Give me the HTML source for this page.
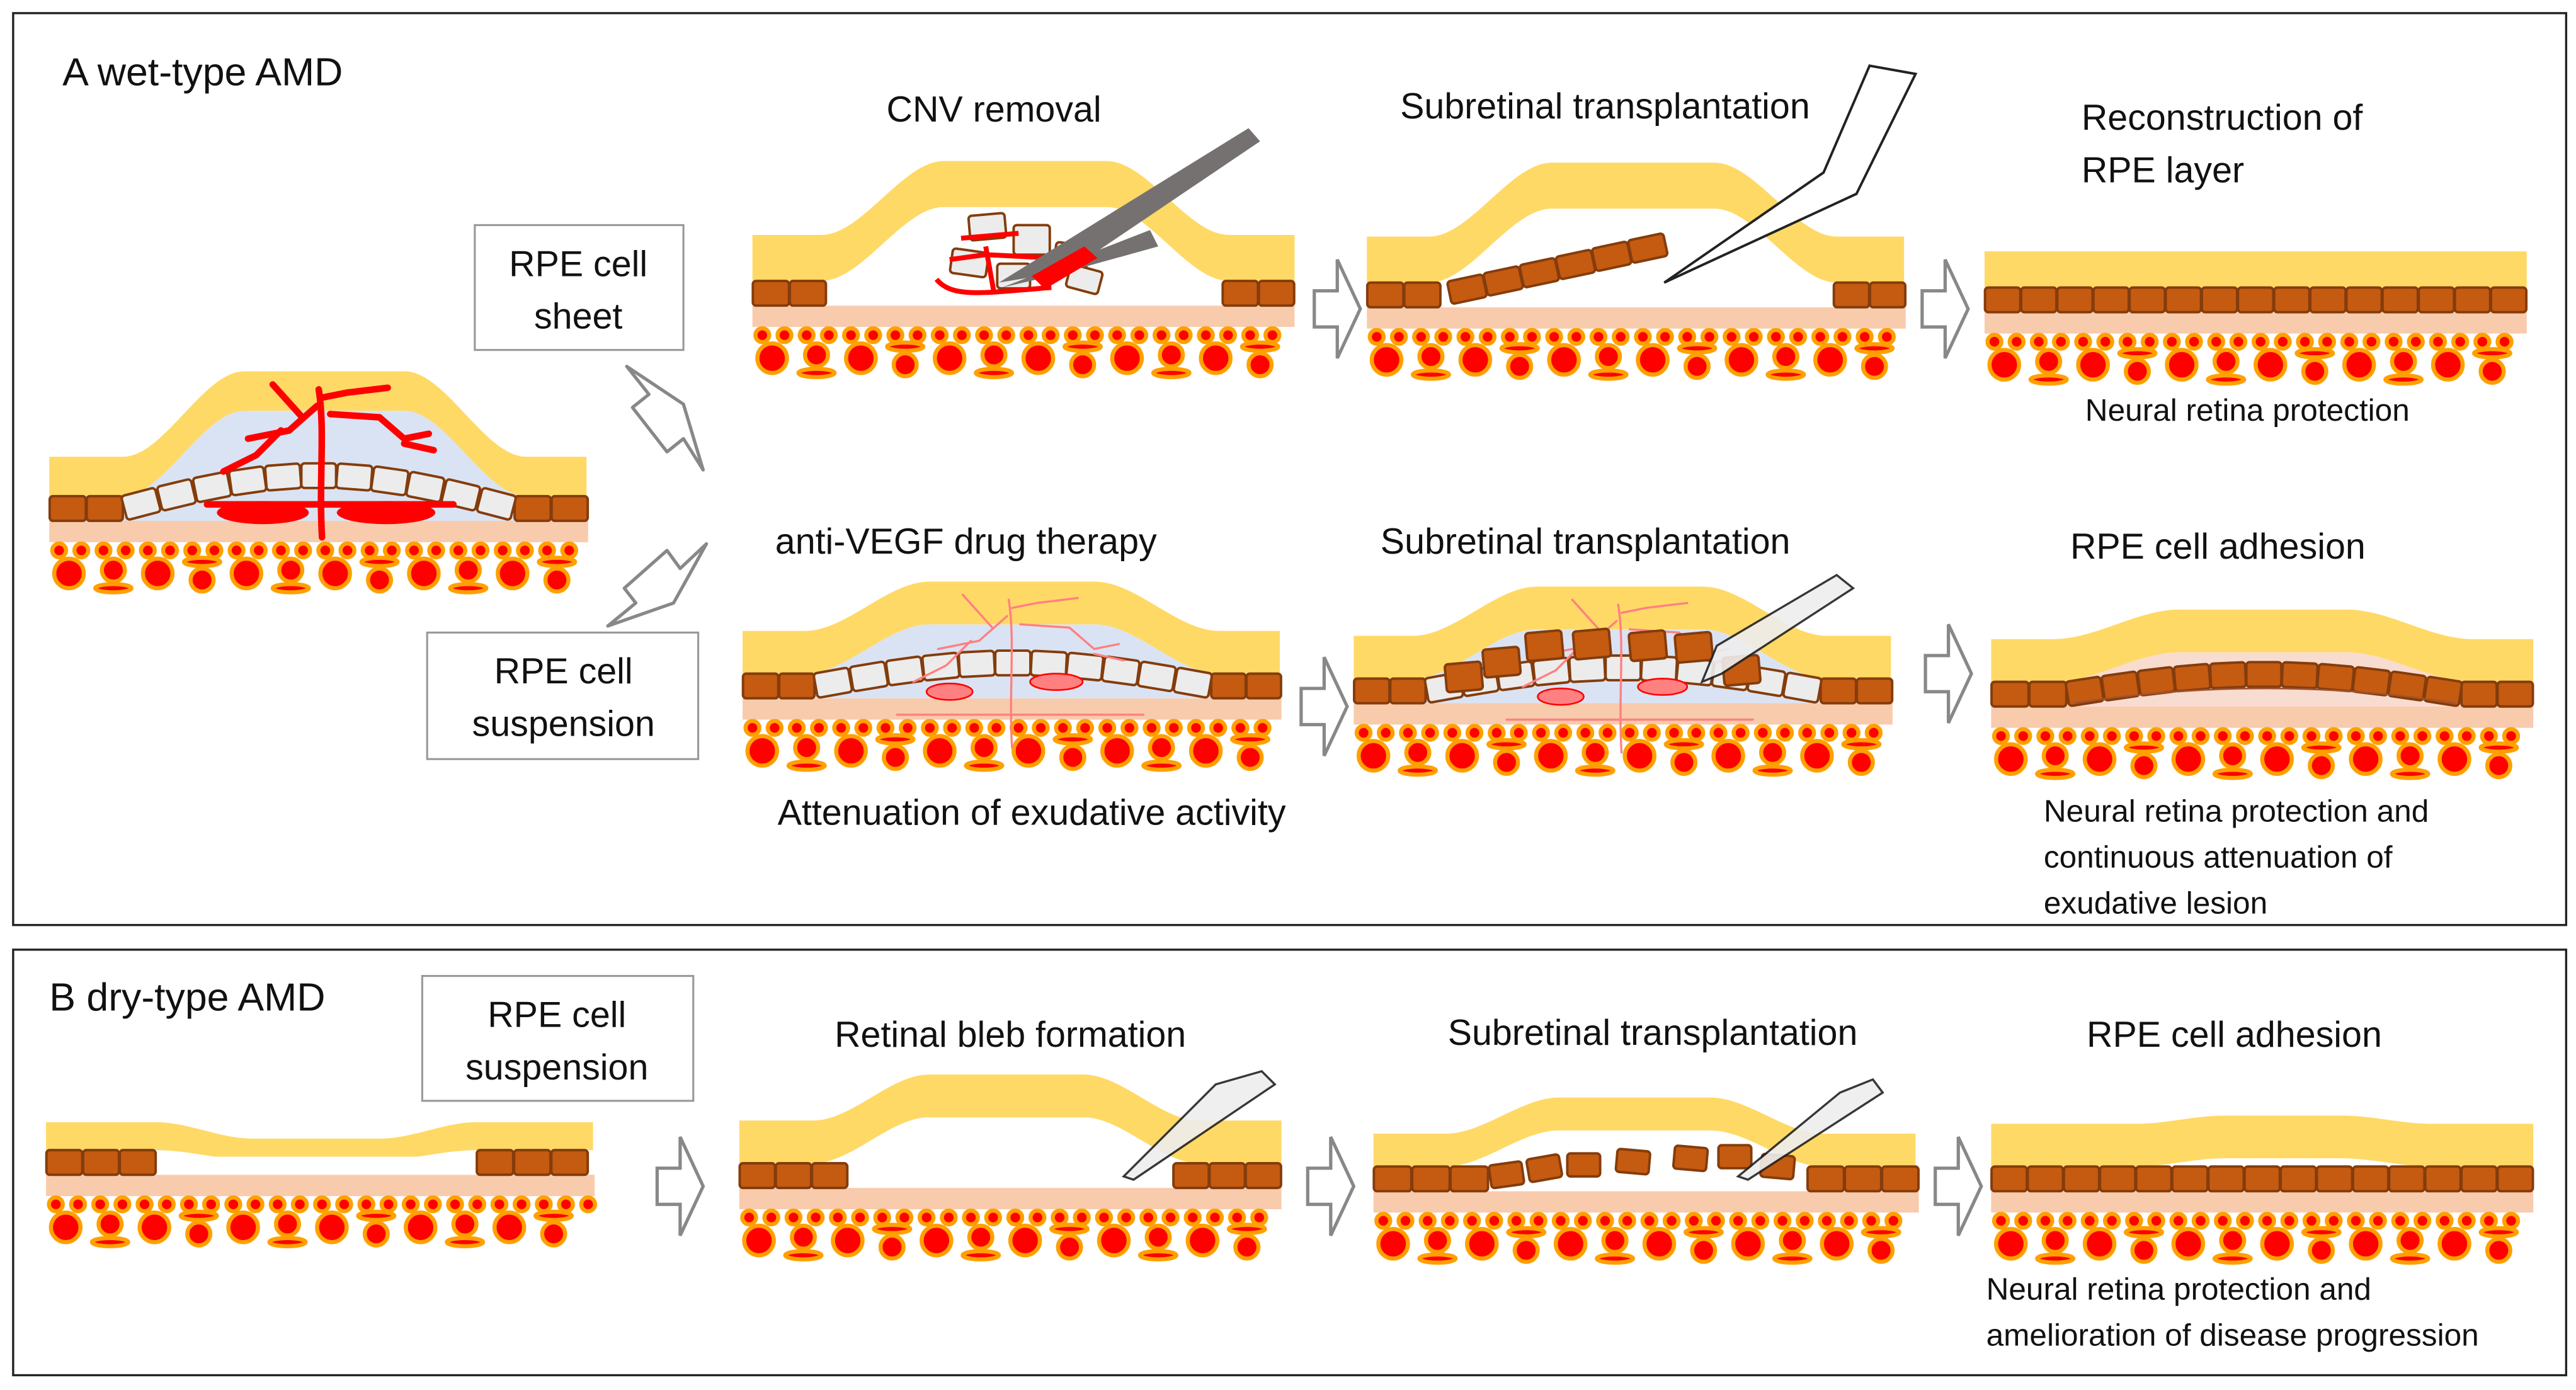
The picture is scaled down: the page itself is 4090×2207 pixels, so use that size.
<!DOCTYPE html>
<html><head><meta charset="utf-8"><style>
html,body{margin:0;padding:0;background:#fff}
svg{display:block}
text{font-family:"Liberation Sans",sans-serif;fill:#111}
</style></head><body>
<svg id="s" width="4090" height="2207" viewBox="0 0 1568 846" preserveAspectRatio="none" xmlns="http://www.w3.org/2000/svg">
<rect x="8" y="8" width="1554" height="555" fill="none" stroke="#222" stroke-width="1.3"/>
<rect x="8" y="578" width="1554" height="259" fill="none" stroke="#222" stroke-width="1.3"/>
<g id="g"></g>
<g font-size="22">
<text x="38" y="52" font-size="24">A  wet-type AMD</text>
<text x="605" y="74" text-anchor="middle">CNV removal</text>
<text x="977" y="72" text-anchor="middle">Subretinal transplantation</text>
<text x="1267" y="79">Reconstruction of</text>
<text x="1267" y="111">RPE layer</text>
<text x="1368" y="256" text-anchor="middle" font-size="19">Neural retina protection</text>
<text x="588" y="337" text-anchor="middle">anti-VEGF drug therapy</text>
<text x="965" y="337" text-anchor="middle">Subretinal transplantation</text>
<text x="1350" y="340" text-anchor="middle">RPE cell adhesion</text>
<text x="628" y="502" text-anchor="middle">Attenuation of exudative activity</text>
<text x="1244" y="500" font-size="19">Neural retina protection and</text>
<text x="1244" y="528" font-size="19">continuous attenuation of</text>
<text x="1244" y="556" font-size="19">exudative lesion</text>
<rect x="289" y="137" width="127" height="76" fill="#fff" stroke="#999" stroke-width="1.2"/>
<text x="352" y="168" text-anchor="middle">RPE cell</text>
<text x="352" y="200" text-anchor="middle">sheet</text>
<rect x="260" y="385" width="165" height="77" fill="#fff" stroke="#999" stroke-width="1.2"/>
<text x="343" y="416" text-anchor="middle">RPE cell</text>
<text x="343" y="448" text-anchor="middle">suspension</text>
<text x="30" y="615" font-size="24">B  dry-type AMD</text>
<rect x="257" y="594" width="165" height="76" fill="#fff" stroke="#999" stroke-width="1.2"/>
<text x="339" y="625" text-anchor="middle">RPE cell</text>
<text x="339" y="657" text-anchor="middle">suspension</text>
<text x="615" y="637" text-anchor="middle">Retinal bleb formation</text>
<text x="1006" y="636" text-anchor="middle">Subretinal transplantation</text>
<text x="1360" y="637" text-anchor="middle">RPE cell adhesion</text>
<text x="1209" y="791" font-size="19">Neural retina protection and</text>
<text x="1209" y="819" font-size="19">amelioration of disease progression</text>
</g>
<polygon points="381.5,223 395,240 385,248 406,275 416,267 428,286 416,246" fill="#fff" stroke="#888" stroke-width="2" stroke-linejoin="round"/>
<polygon points="370,381 387,367 380,358 406,335 414,346 430,331 410,367" fill="#fff" stroke="#888" stroke-width="2" stroke-linejoin="round"/>
</svg>
<script>
var G=document.getElementById('g'),H='';
function ss(t){t=Math.max(0,Math.min(1,t));return t*t*(3-2*t);}
function bump(x,b){if(!b)return 0;var t=(x-b.a)/(b.b-b.a);if(t<=0||t>=1)return 0;var e=0.3;return b.h*(t<e?ss(t/e):t>1-e?ss((1-t)/e):1);}
var BR='#c55a11',ST='#843c0c',WH='#ececec';
function cell(x,y,w,h,ang,fill){H+='<rect x="'+(x-w/2)+'" y="'+(y-h/2)+'" width="'+w+'" height="'+h+'" rx="2" fill="'+fill+'" stroke="'+ST+'" stroke-width="1.5" transform="rotate('+ang+' '+x+' '+y+')"/>';}
function tissue(o){
 var x0=o.x0,x1=o.x1,r=o.r,t=o.t||26;
 H+='<rect x="'+x0+'" y="'+(r+15)+'" width="'+(x1-x0)+'" height="13" fill="#f8cbad"/>';
 var sy=r+33,by=r+47;
 var i=0;for(var x=x0+12;x<=x1-8;x+=27,i++){var k=i%4;
  if(k==0||k==2){H+='<circle cx="'+x+'" cy="'+by+'" r="9" fill="#f00" stroke="#ffa000" stroke-width="2.5"/>';}
  else if(k==1){H+='<circle cx="'+x+'" cy="'+(by-2)+'" r="7" fill="#f00" stroke="#ffa000" stroke-width="2.5"/><ellipse cx="'+x+'" cy="'+(by+9)+'" rx="11" ry="2.5" fill="#f00" stroke="#ffa000" stroke-width="2.5"/>';}
  else {H+='<ellipse cx="'+x+'" cy="'+(by-7)+'" rx="11" ry="2.5" fill="#f00" stroke="#ffa000" stroke-width="2.5"/><circle cx="'+x+'" cy="'+(by+4)+'" r="7" fill="#f00" stroke="#ffa000" stroke-width="2.5"/>';}
 }
 for(var x=x0+6;x<=x1-4;x+=13.5){H+='<circle cx="'+x+'" cy="'+sy+'" r="4.2" fill="#f00" stroke="#ffa000" stroke-width="2.5"/>';}
 var top=[],bot=[];
 for(var x=x0;x<=x1;x+=3){var f=bump(x,o.b),d=o.dip?bump(x,o.dip):0;top.push(x+','+(r-t-f+d));bot.push(x+','+(r-f+(o.dip?d*0.6:0)));}
 if(o.b&&o.under){H+='<polygon points="'+bot.join(' ')+' '+x1+','+(r+15)+' '+x0+','+(r+15)+'" fill="'+o.under+'"/>';}
 H+='<polygon points="'+top.join(' ')+' '+bot.reverse().join(' ')+'" fill="#ffd966"/>';
}
function row(x0,x1,y,fill,n){var w=(x1-x0)/n;for(var i=0;i<n;i++)cell(x0+w*(i+.5),y+7.5,w-0.5,15,0,fill);}
function arc(x0,x1,y,h,n,fill,dy){var w=(x1-x0)/n;dy=dy||0;for(var i=0;i<n;i++){var cx=x0+w*(i+.5);var t=(cx-x0)/(x1-x0);var f=h*Math.sin(Math.PI*t);var fp=h*Math.PI*Math.cos(Math.PI*t)/(x1-x0);cell(cx,y+7.5-f+dy,w-0.5,15,-Math.atan(fp)*180/Math.PI,fill);}}
function harrow(x,y){H+='<polygon points="'+x+','+(y-11)+' '+(x+14)+','+(y-11)+' '+(x+14)+','+(y-30)+' '+(x+28)+','+y+' '+(x+14)+','+(y+30)+' '+(x+14)+','+(y+11)+' '+x+','+(y+11)+'" fill="#fff" stroke="#888" stroke-width="2"/>';}
function vessels(cx,cy,col,w){H+='<g fill="none" stroke="'+col+'" stroke-width="'+w+'" stroke-linecap="round">'+
 '<path d="M'+cx+','+(cy+45)+' C'+(cx-2)+','+(cy+10)+' '+(cx+2)+','+(cy-20)+' '+(cx-2)+','+(cy-45)+'"/>'+
 '<path d="M'+(cx-3)+','+(cy-35)+' L'+(cx-20)+','+(cy-20)+' L'+(cx-45)+','+(cy-15)+'"/>'+
 '<path d="M'+(cx-25)+','+(cy-20)+' L'+(cx-40)+','+(cy-5)+' L'+(cx-60)+','+(cy+5)+'"/>'+
 '<path d="M'+(cx-12)+','+(cy-28)+' L'+(cx-30)+','+(cy-48)+'"/>'+
 '<path d="M'+cx+','+(cy-40)+' L'+(cx+15)+','+(cy-43)+' L'+(cx+40)+','+(cy-46)+'"/>'+
 '<path d="M'+(cx+5)+','+(cy-30)+' L'+(cx+35)+','+(cy-28)+' L'+(cx+50)+','+(cy-15)+' L'+(cx+65)+','+(cy-18)+'"/>'+
 '<path d="M'+(cx+50)+','+(cy-12)+' L'+(cx+68)+','+(cy-8)+'"/>'+
 '<path d="M'+(cx-70)+','+(cy+25)+' L'+(cx+80)+','+(cy+25)+'"/></g>';}

tissue({x0:30,x1:358,r:302,t:24,b:{a:75,b:320,h:52},under:'#dae3f3'});
row(30,75,302,BR,2);row(313,358,302,BR,2);
arc(75,313,302,20,11,WH);
vessels(196,282,'#f00',4);
H+='<ellipse cx="160" cy="312" rx="28" ry="7" fill="#f00"/><ellipse cx="235" cy="312" rx="30" ry="7" fill="#f00"/>';

tissue({x0:458,x1:788,r:171,t:28,b:{a:500,b:748,h:45},under:'#fff'});
row(458,503,171,BR,2);row(744,788,171,BR,2);
cell(601,138,22,15,-5,WH);cell(628,146,22,18,0,WH);cell(590,160,22,15,8,WH);cell(617,168,20,15,0,WH);cell(652,156,20,15,8,WH);cell(660,170,20,14,15,WH);
H+='<g fill="none" stroke="#f00" stroke-width="3"><path d="M570,170 C580,182 600,178 640,175"/><path d="M578,158 L600,155 L640,157"/><path d="M585,145 L620,142"/><path d="M600,150 L605,178"/></g>';
H+='<polygon points="608,172 760,78 767,86 650,165" fill="#767171"/><polygon points="610,175 700,140 705,150 640,168" fill="#767171"/><polygon points="628,168 660,150 668,157 636,176" fill="#f00"/>';

tissue({x0:832,x1:1160,r:172,t:28,b:{a:870,b:1118,h:45},under:'#fff'});
row(832,877,172,BR,2);row(1116,1160,172,BR,2);
for(var i=0;i<6;i++){cell(893+i*22,176-i*5,22,14,-12,BR);}
H+='<polygon points="1013,172 1110,105 1138,40 1166,45 1130,118" fill="#fff" stroke="#222" stroke-width="1.5"/>';

tissue({x0:1208,x1:1538,r:175,t:22});
row(1208,1538,175,BR,15);

tissue({x0:452,x1:780,r:410,t:26,b:{a:490,b:742,h:30},under:'#dae3f3'});
row(452,496,410,BR,2);row(737,780,410,BR,2);
arc(496,737,410,14,11,WH);
vessels(616,410,'#ff8080',1.3);
H+='<ellipse cx="578" cy="421" rx="14" ry="5" fill="#ff8080" stroke="#f00"/><ellipse cx="643" cy="415" rx="16" ry="5" fill="#ff8080" stroke="#f00"/>';

tissue({x0:824,x1:1152,r:413,t:26,b:{a:860,b:1112,h:30},under:'#dae3f3'});
row(824,868,413,BR,2);row(1108,1152,413,BR,2);
arc(868,1108,413,14,11,WH);
vessels(987,413,'#ff8080',1.3);
H+='<ellipse cx="950" cy="424" rx="14" ry="5" fill="#ff8080" stroke="#f00"/><ellipse cx="1012" cy="418" rx="15" ry="5" fill="#ff8080" stroke="#f00"/>';
[[891,412],[914,403],[940,393],[969,392],[1003,393],[1031,394],[1060,408]].forEach(function(p){cell(p[0],p[1],22,17,-5,BR);});
H+='<polygon points="1036,415 1045,393 1118,350 1128,358 1048,410" fill="#eee" stroke="#222" stroke-width="1.3" opacity="0.9"/>';

tissue({x0:1212,x1:1542,r:415,t:26,b:{a:1250,b:1505,h:18},under:'#f8dcd0'});
row(1212,1258,415,BR,2);row(1498,1542,415,BR,2);
arc(1258,1498,415,12,11,BR);
H+='<path d="M1262,428 Q1380,410 1495,428" fill="none" stroke="#a0522d" stroke-width="1"/>';

tissue({x0:28,x1:362,r:700,t:17,dip:{a:95,b:290,h:10}});
H+='<rect x="95" y="704" width="195" height="11" fill="#fff"/>';
row(28,95,700,BR,3);row(290,358,700,BR,3);

tissue({x0:450,x1:780,r:708,t:26,b:{a:495,b:730,h:28},under:'#fff'});
row(450,516,708,BR,3);row(714,780,708,BR,3);
H+='<polygon points="684,716 740,660 768,652 776,660 690,718" fill="#eee" stroke="#222" stroke-width="1.3" opacity="0.9"/>';

tissue({x0:836,x1:1168,r:710,t:20,b:{a:880,b:1110,h:22},under:'#fff'});
row(836,906,710,BR,3);row(1100,1168,710,BR,3);
[[917,715,-8],[940,711,-10],[964,709,0],[994,707,5],[1029,705,5],[1056,704,0],[1082,710,5]].forEach(function(p){cell(p[0],p[1],20,14,p[2],BR);});
H+='<polygon points="1058,716 1120,665 1140,657 1146,665 1064,718" fill="#eee" stroke="#222" stroke-width="1.3" opacity="0.9"/>';

tissue({x0:1212,x1:1542,r:710,t:26,b:{a:1300,b:1480,h:5}});
row(1212,1542,710,BR,15);

harrow(800,188);harrow(1170,188);harrow(792,430);harrow(1172,410);
harrow(400,722);harrow(796,722);harrow(1178,722);
G.innerHTML=H;
</script>
</body></html>
